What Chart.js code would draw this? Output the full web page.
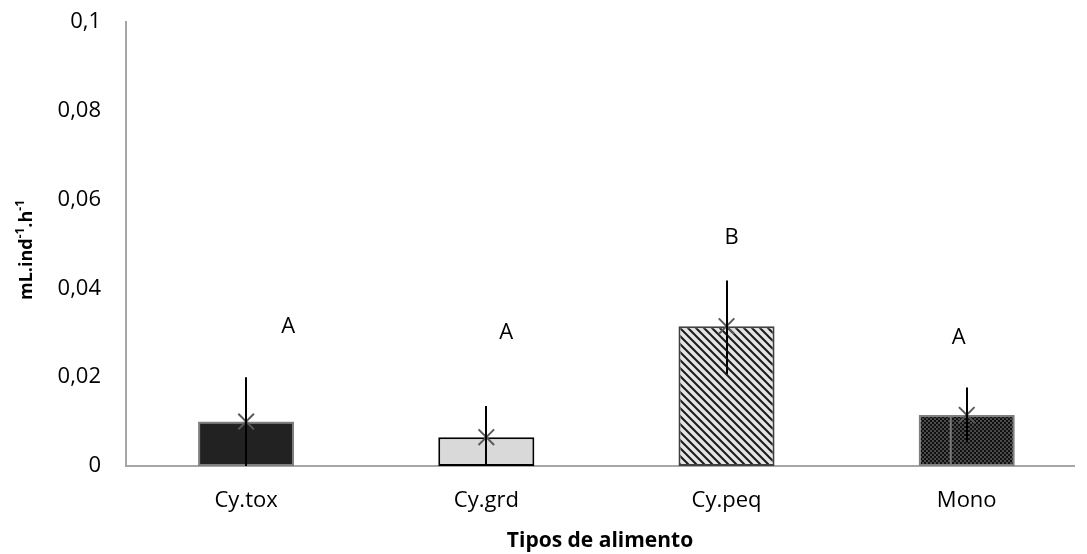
<!DOCTYPE html>
<html>
<head>
<meta charset="utf-8">
<script src="https://cdn.jsdelivr.net/npm/chart.js@4.4.1/dist/chart.umd.min.js"></script>
<style>
  html, body { margin: 0; padding: 0; background: #fff; overflow: hidden; }
</style>
</head>
<body>
<canvas id="c" width="1087" height="554"></canvas>
<script>
// Feeding rate by food type
const categories = ['Cy.tox', 'Cy.grd', 'Cy.peq', 'Mono'];
const means      = [0.0100, 0.0065, 0.0315, 0.0115];
const errUpper   = [0.0100, 0.0070, 0.0103, 0.0062];
const errLower   = [0.0100, 0.0070, 0.0108, 0.0062];
const groupLetters = ['A', 'A', 'B', 'A'];
const letterValues = [0.0313, 0.0300, 0.0514, 0.0288];
const yTicks = [0, 0.02, 0.04, 0.06, 0.08, 0.1];

const FONT = "'Open Sans', 'Liberation Sans', sans-serif";

// category slots are 243.5 px wide; the last slot runs past the right edge
const PLOT_W = 1087 - 126;
const SLOT_W = 243.5;
const X_MIN = -0.5;
const X_MAX = X_MIN + PLOT_W / SLOT_W;

function makePattern(size, draw) {
  const pc = document.createElement('canvas');
  pc.width = size; pc.height = size;
  const g = pc.getContext('2d');
  draw(g, size);
  return document.getElementById('c').getContext('2d').createPattern(pc, 'repeat');
}

// diagonal hatch for Cy.peq
const hatch = makePattern(8, (g, s) => {
  g.fillStyle = '#e4e4e4'; g.fillRect(0, 0, s, s);
  g.strokeStyle = '#1a1a1a'; g.lineWidth = 2;
  g.beginPath();
  g.moveTo(-2, -2); g.lineTo(s + 2, s + 2);
  g.moveTo(-2, s - 2); g.lineTo(2, s + 2);
  g.moveTo(s - 2, -2); g.lineTo(s + 2, 2);
  g.stroke();
});
// fine dark check for Mono
const check = makePattern(4, (g, s) => {
  g.fillStyle = '#101010'; g.fillRect(0, 0, s, s);
  g.fillStyle = '#4a4a4a';
  g.fillRect(0, 0, 2, 2); g.fillRect(2, 2, 2, 2);
});

const fills   = ['#222222', '#d9d9d9', hatch, check];
const borders = ['#7f7f7f', '#000000', '#404040', '#7f7f7f'];

const barPoints  = categories.map((c, i) => ({ x: i, y: means[i] }));

// error bars, group letters, axis title with superscripts
const extras = {
  id: 'extras',
  afterDatasetsDraw(chart) {
    const { ctx, scales: { x, y } } = chart;
    ctx.save();
    // inner seam on the Mono bar
    const mb = chart.getDatasetMeta(0).data[3];
    ctx.strokeStyle = '#7a7a7a'; ctx.lineWidth = 2;
    ctx.beginPath();
    ctx.moveTo(mb.x - 16, mb.y + 2); ctx.lineTo(mb.x - 16, mb.base - 1);
    ctx.stroke();

    // error bars
    ctx.strokeStyle = '#000'; ctx.lineWidth = 2;
    categories.forEach((c, i) => {
      const px = Math.round(x.getPixelForValue(i));
      const top = y.getPixelForValue(means[i] + errUpper[i]);
      const bot = y.getPixelForValue(Math.max(0, means[i] - errLower[i]));
      ctx.beginPath(); ctx.moveTo(px, top); ctx.lineTo(px, bot); ctx.stroke();
    });

    // letters
    const letterShift = [42, 20, 5, -8];
    ctx.fillStyle = '#000';
    ctx.font = '22px ' + FONT;
    ctx.textAlign = 'center'; ctx.textBaseline = 'middle';
    groupLetters.forEach((t, i) => {
      ctx.fillText(t, x.getPixelForValue(i) + letterShift[i], y.getPixelForValue(letterValues[i]));
    });

    // y title: mL.ind-1.h-1
    const cx = 27, cy = 250;
    ctx.translate(cx, cy);
    ctx.rotate(-Math.PI / 2);
    const parts = [['mL.ind', false], ['-1', true], ['.h', false], ['-1', true]];
    const big = 'bold 18px ' + FONT, small = 'bold 12px ' + FONT;
    let w = 0;
    parts.forEach(([t, sup]) => { ctx.font = sup ? small : big; w += ctx.measureText(t).width; });
    let xx = -w / 2;
    ctx.textAlign = 'left'; ctx.textBaseline = 'middle';
    parts.forEach(([t, sup]) => {
      ctx.font = sup ? small : big;
      ctx.fillText(t, xx, sup ? -6 : 0);
      xx += ctx.measureText(t).width;
    });
    ctx.restore();
  }
};

new Chart(document.getElementById('c'), {
  data: {
    datasets: [
      {
        type: 'bar',
        data: barPoints,
        backgroundColor: fills,
        borderColor: borders,
        borderWidth: 2,
        borderSkipped: false,
        barPercentage: 0.4,
        categoryPercentage: 1.0,
        order: 2
      },
      {
        type: 'line',
        data: barPoints,
        showLine: false,
        pointStyle: 'crossRot',
        pointRadius: 11,
        pointBorderWidth: 2,
        pointBorderColor: '#595959',
        pointBackgroundColor: '#595959',
        order: 1
      }
    ]
  },
  options: {
    responsive: false,
    animation: false,
    layout: { padding: { top: 22, right: 0, bottom: 0, left: 0 } },
    plugins: { legend: { display: false }, tooltip: { enabled: false } },
    scales: {
      x: {
        type: 'linear',
        min: X_MIN, max: X_MAX,
        offset: false,
        afterBuildTicks(s) { s.ticks = categories.map((c, i) => ({ value: i })); },
        grid: { display: false, drawTicks: false },
        border: { display: true, color: '#a6a6a6', width: 2 },
        ticks: { color: '#000', font: { family: FONT, size: 22 }, padding: 22,
                 autoSkip: false, maxRotation: 0,
                 callback: v => categories[v] },
        title: { display: true, text: 'Tipos de alimento', color: '#000',
                 font: { family: FONT, size: 21, weight: 'bold' }, padding: { top: 10, bottom: 0 } },
        afterFit(s) { s.height = 88; s.paddingLeft = 0; s.paddingRight = 0; }
      },
      y: {
        min: 0, max: 0.1,
        afterBuildTicks(s) { s.ticks = yTicks.map(v => ({ value: v })); },
        grid: { display: false, drawTicks: false },
        border: { display: true, color: '#a6a6a6', width: 2 },
        ticks: {
          color: '#000', font: { family: FONT, size: 22 }, padding: 25,
          callback: v => String(v).replace('.', ',')
        },
        afterFit(s) { s.width = 126; s.paddingTop = 0; s.paddingBottom = 0; }
      }
    }
  },
  plugins: [extras]
});
</script>
</body>
</html>
